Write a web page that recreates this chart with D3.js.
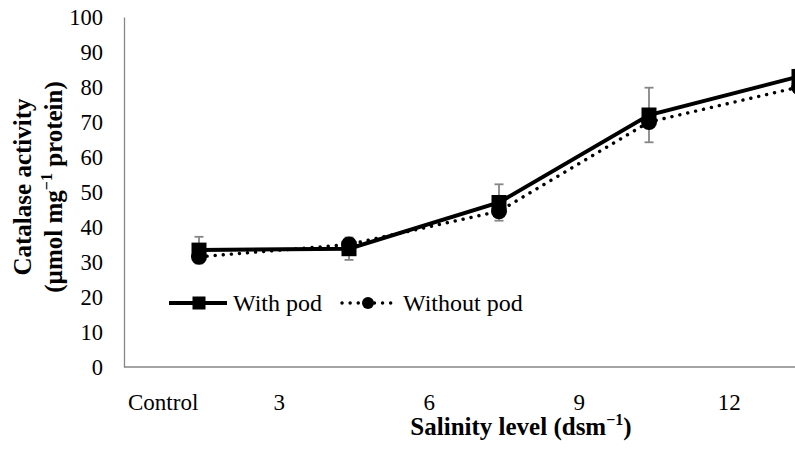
<!DOCTYPE html>
<html><head><meta charset="utf-8">
<script src="https://cdn.jsdelivr.net/npm/d3@7"></script>
<style>
body{margin:0;background:#fff;}
svg{display:block;}
svg text{font-family:'Liberation Serif','Times New Roman',Tinos,'DejaVu Serif',serif;}
</style>
</head><body>
<svg id="c" width="795" height="455"></svg>
<script>
// ---- data ----
const categories = ["Control", "3", "6", "9", "12"];
const withPod = [33.4, 33.8, 47.0, 72.0, 83.0];
const withPodErr = [3.8, 3.2, 5.2, 7.8, 2.0];
const withoutPod = [31.5, 35.0, 44.5, 70.0, 80.0];
const withoutPodErr = [1.0, 1.0, 1.5, 2.0, 9.0];
const yTicks = [0, 10, 20, 30, 40, 50, 60, 70, 80, 90, 100];
const seriesNames = ["With pod", "Without pod"];

// ---- layout ----
const FONT = "'Liberation Serif','Times New Roman',Tinos,'DejaVu Serif',serif";
const svg = d3.select("#c").attr("font-family", FONT);
const axisX = 124;
const x = d3.scalePoint().domain(categories).range([199, 799]);
const y = d3.scaleLinear().domain([0, 100]).range([367, 17]);
const step = x.step();
const grey = "#868686";

// y axis
const yAxis = svg.append("g")
  .attr("transform", `translate(${axisX},0)`)
  .call(d3.axisLeft(y).tickValues(yTicks).tickSize(0).tickSizeOuter(0).tickPadding(21));
yAxis.attr("font-family", FONT).attr("font-size", null);
yAxis.select(".domain").attr("stroke", grey).attr("stroke-width", 1.3);
yAxis.selectAll("text").attr("font-size", 22.5).attr("font-family", FONT).attr("fill", "#000");

// x axis line
svg.append("line")
  .attr("x1", axisX).attr("x2", 795)
  .attr("y1", y(0)).attr("y2", y(0))
  .attr("stroke", grey).attr("stroke-width", 1.3);

// x category labels (Excel places them offset half a step to the left)
svg.append("g").selectAll("text").data(categories).join("text")
  .attr("x", (d, i) => i === 0 ? axisX + 4 : x(d) - step * 0.465)
  .attr("y", 410)
  .attr("text-anchor", (d, i) => i === 0 ? "start" : "middle")
  .attr("font-family", FONT)
  .attr("font-size", 23)
  .text(d => d);

// error bars
function errorBars(vals, errs, color, dash) {
  const g = svg.append("g").attr("stroke", color).attr("stroke-width", 1.8).attr("fill", "none");
  if (dash) g.attr("stroke-dasharray", dash).attr("stroke-linecap", "round");
  categories.forEach((c, i) => {
    const cx = x(c), lo = y(vals[i] - errs[i]), hi = y(vals[i] + errs[i]);
    g.append("line").attr("x1", cx).attr("x2", cx).attr("y1", lo).attr("y2", hi);
    if (!dash) {
      g.append("line").attr("x1", cx - 4.5).attr("x2", cx + 4.5).attr("y1", lo).attr("y2", lo);
      g.append("line").attr("x1", cx - 4.5).attr("x2", cx + 4.5).attr("y1", hi).attr("y2", hi);
    }
  });
}
errorBars(withoutPod, withoutPodErr, "#000", "0.1 7");
errorBars(withPod, withPodErr, grey, null);

const line = d3.line().x((d, i) => x(categories[i])).y(d => y(d));

// without pod dotted line
svg.append("path").datum(withoutPod)
  .attr("d", line).attr("fill", "none").attr("stroke", "#000")
  .attr("stroke-width", 3.4).attr("stroke-linecap", "round").attr("stroke-dasharray", "0.1 8");
// with pod solid line
svg.append("path").datum(withPod)
  .attr("d", line).attr("fill", "none").attr("stroke", "#000").attr("stroke-width", 4);

// markers
svg.append("g").selectAll("circle").data(withoutPod).join("circle")
  .attr("cx", (d, i) => x(categories[i])).attr("cy", d => y(d)).attr("r", 8).attr("fill", "#000");
svg.append("g").selectAll("rect").data(withPod).join("rect")
  .attr("x", (d, i) => x(categories[i]) - 7.5).attr("y", d => y(d) - 7.5)
  .attr("width", 15).attr("height", 15).attr("fill", "#000");

// legend
const lg = svg.append("g").attr("transform", "translate(169,303)");
lg.append("line").attr("x1", 0).attr("x2", 58).attr("y1", 0).attr("y2", 0).attr("stroke", "#000").attr("stroke-width", 4);
lg.append("rect").attr("x", 30 - 6.5).attr("y", -6.5).attr("width", 13).attr("height", 13).attr("fill", "#000");
lg.append("text").attr("x", 64).attr("y", 7.5).attr("font-size", 24).text(seriesNames[0]);
lg.append("line").attr("x1", 173).attr("x2", 225).attr("y1", 0).attr("y2", 0)
  .attr("stroke", "#000").attr("stroke-width", 3.4).attr("stroke-linecap", "round").attr("stroke-dasharray", "0.1 8");
lg.append("circle").attr("cx", 199).attr("cy", 0).attr("r", 6).attr("fill", "#000");
lg.append("text").attr("x", 234).attr("y", 7.5).attr("font-size", 24).text(seriesNames[1]);

// y title
const yt = svg.append("text")
  .attr("transform", "translate(0,187) rotate(-90)")
  .attr("text-anchor", "middle").attr("font-weight", "bold").attr("font-size", 25);
yt.append("tspan").attr("x", 0).attr("y", 31).text("Catalase activity");
const l2 = yt.append("tspan").attr("x", 0).attr("y", 62);
l2.append("tspan").text("(µmol mg");
l2.append("tspan").attr("font-size", 16).attr("dy", -10).text("−1");
l2.append("tspan").attr("dy", 10).text(" protein)");

// x title
const xt = svg.append("text").attr("x", 521).attr("y", 435)
  .attr("text-anchor", "middle").attr("font-weight", "bold").attr("font-size", 25);
xt.append("tspan").text("Salinity level (dsm");
xt.append("tspan").attr("font-size", 16).attr("dy", -10).text("−1");
xt.append("tspan").attr("dy", 10).text(")");
</script>
</body></html>
